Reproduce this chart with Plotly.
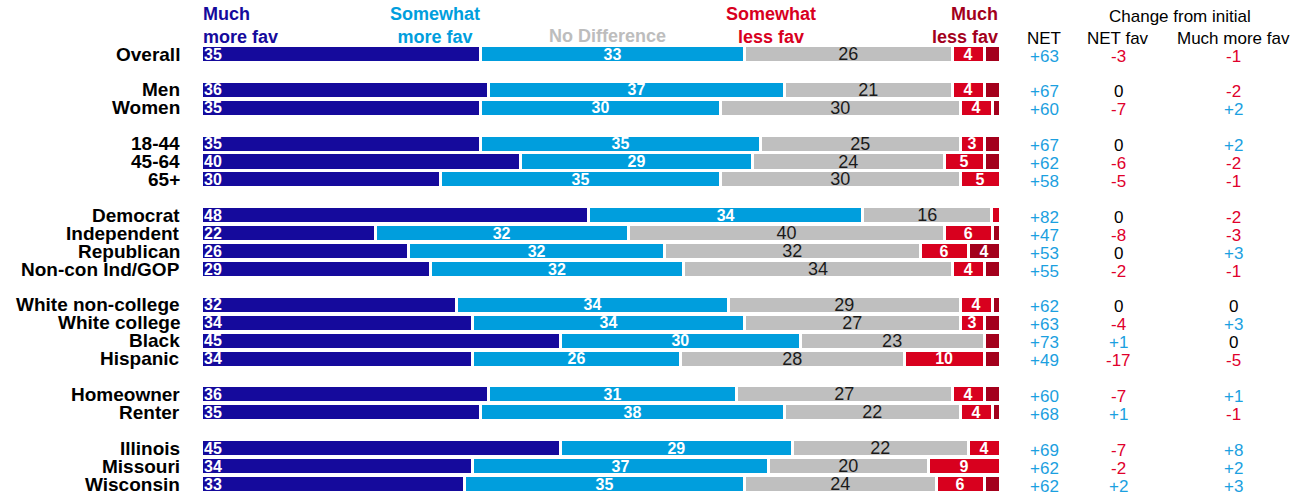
import plotly.graph_objects as go

# ---------------- data ----------------
categories = ["Overall", "Men", "Women", "18-44", "45-64", "65+",
              "Democrat", "Independent", "Republican", "Non-con Ind/GOP",
              "White non-college", "White college", "Black", "Hispanic",
              "Homeowner", "Renter", "Illinois", "Missouri", "Wisconsin"]
group_sizes = [1, 2, 3, 4, 4, 2, 3]

series_names = ["Much<br>more fav", "Somewhat<br>more fav", "No Difference",
                "Somewhat<br>less fav", "Much<br>less fav"]
much_more = [35, 36, 35, 35, 40, 30, 48, 22, 26, 29, 32, 34, 45, 34, 36, 35, 45, 34, 33]
somewhat_more = [33, 37, 30, 35, 29, 35, 34, 32, 32, 32, 34, 34, 30, 26, 31, 38, 29, 37, 35]
no_difference = [26, 21, 30, 25, 24, 30, 16, 40, 32, 34, 29, 27, 23, 28, 27, 22, 22, 20, 24]
somewhat_less = [4, 4, 4, 3, 5, 5, 1, 6, 6, 4, 4, 3, 0, 10, 4, 4, 4, 9, 6]
much_less = [2, 2, 1, 2, 2, 0, 0, 1, 4, 2, 1, 2, 2, 2, 2, 1, 0, 0, 2]

net = [63, 67, 60, 67, 62, 58, 82, 47, 53, 55, 62, 63, 73, 49, 60, 68, 69, 62, 62]
change_net_fav = [-3, 0, -7, 0, -6, -5, 0, -8, 0, -2, 0, -4, 1, -17, -7, 1, -7, -2, 2]
change_much_more = [-1, -2, 2, 2, -2, -1, -2, -3, 3, -1, 0, 3, 0, -5, 1, -1, 8, 2, 3]

# ---------------- styling ----------------
W, H = 1306, 498
DARK_BLUE = "#150A9C"
LIGHT_BLUE = "#009EDD"
GRAY = "#BFBFBF"
RED = "#D8001E"
DARK_RED = "#A3001C"
HEAD_GRAY = "#BDBDBD"
NUM_BLUE = "#1BA0E0"
NUM_RED = "#E0002B"

FONT = "Liberation Sans, Arial, sans-serif"

# row positions (blank row between groups)
positions = []
p = 0
for g in group_sizes:
    for _ in range(g):
        positions.append(p)
        p += 1
    p += 1
n_slots = positions[-1] + 1

BAR_X0, BAR_X1 = 201, 1000
ROW_TOP, ROW_BOTTOM = 54, 484          # pixel centres of first / last row
pitch = (ROW_BOTTOM - ROW_TOP) / (n_slots - 1)
plot_top = ROW_TOP - 0.5 * pitch
plot_bottom = ROW_BOTTOM + 0.5 * pitch


def px_x(x):
    return x / W


def px_y(y):
    return 1 - y / H


fig = go.Figure()

series = [much_more, somewhat_more, no_difference, somewhat_less, much_less]
colors = [DARK_BLUE, LIGHT_BLUE, GRAY, RED, DARK_RED]
anchors = ["start", "middle", "middle", "middle", "middle"]
min_label = [0, 0, 0, 3, 3]
text_fonts = [
    dict(family=FONT, size=16, color="white", weight="bold"),
    dict(family=FONT, size=16, color="white", weight="bold"),
    dict(family=FONT, size=18, color="#1a1a1a"),
    dict(family=FONT, size=16, color="white", weight="bold"),
    dict(family=FONT, size=16, color="white", weight="bold"),
]

for vals, col, anc, mn, tf, name in zip(series, colors, anchors, min_label, text_fonts, series_names):
    fig.add_trace(go.Bar(
        orientation="h",
        y=positions,
        x=vals,
        name=name,
        marker=dict(color=col, line=dict(color="white", width=3)),
        width=0.95,
        text=[str(v) if (v >= mn and v > 0) else "" for v in vals],
        textposition="inside",
        insidetextanchor=anc,
        textangle=0,
        constraintext="none",
        cliponaxis=False,
        textfont=tf,
        hoverinfo="skip",
        showlegend=False,
    ))

annotations = []

# row labels
for cat, pos in zip(categories, positions):
    annotations.append(dict(
        x=px_x(182), xref="paper", xanchor="right",
        y=pos, yref="y", yanchor="middle",
        text=cat, showarrow=False,
        font=dict(family=FONT, size=19, color="black", weight="bold"),
    ))


def signed(v):
    if v > 0:
        return "+%d" % v, NUM_BLUE
    if v < 0:
        return "-%d" % abs(v), NUM_RED
    return "0", "black"


COL_NET, COL_NETFAV, COL_MUCH = 1044, 1118, 1233
for pos, n, c1, c2 in zip(positions, net, change_net_fav, change_much_more):
    for xpx, v in ((COL_NET, n), (COL_NETFAV, c1), (COL_MUCH, c2)):
        t, c = signed(v)
        annotations.append(dict(
            x=px_x(xpx), xref="paper", xanchor="center",
            y=pos, yref="y", yanchor="middle", yshift=-2,
            text=t, showarrow=False,
            font=dict(family=FONT, size=17, color=c),
        ))

# series headers
head_font = dict(family=FONT, size=18, weight="bold")
header_specs = [
    (series_names[0], BAR_X0, "left", 26, DARK_BLUE),
    (series_names[1], 435, "center", 26, LIGHT_BLUE),
    (series_names[2], 607, "center", 36, HEAD_GRAY),
    (series_names[3], 771, "center", 26, RED),
    (series_names[4], BAR_X1, "right", 26, DARK_RED),
]
for t, xpx, anc, ypx, col in header_specs:
    annotations.append(dict(
        x=px_x(xpx), xref="paper", xanchor=anc, align=anc,
        y=px_y(ypx), yref="paper", yanchor="middle",
        text=t, showarrow=False,
        font=dict(color=col, **head_font),
    ))

# right column headers
col_head_font = dict(family=FONT, size=17, color="black")
for t, xpx, ypx in (("NET", COL_NET, 38), ("Change from initial", 1180, 17),
                    ("NET fav", COL_NETFAV, 38), ("Much more fav", COL_MUCH, 38)):
    annotations.append(dict(
        x=px_x(xpx), xref="paper", xanchor="center",
        y=px_y(ypx), yref="paper", yanchor="middle",
        text=t, showarrow=False, font=col_head_font,
    ))

fig.update_layout(
    width=W, height=H, autosize=False,
    margin=dict(l=0, r=0, t=0, b=0),
    paper_bgcolor="white", plot_bgcolor="white",
    barmode="stack", barnorm="percent",
    xaxis=dict(domain=[px_x(BAR_X0), px_x(BAR_X1)], range=[0, 100], visible=False, fixedrange=True),
    yaxis=dict(domain=[px_y(plot_bottom), px_y(plot_top)],
               range=[n_slots - 0.5, -0.5], visible=False, fixedrange=True),
    annotations=annotations,
    showlegend=False,
)

fig.write_html(
    "out.html",
    config={"displayModeBar": False},
    post_script="document.body.style.margin='0';document.body.style.overflow='hidden';",
)
